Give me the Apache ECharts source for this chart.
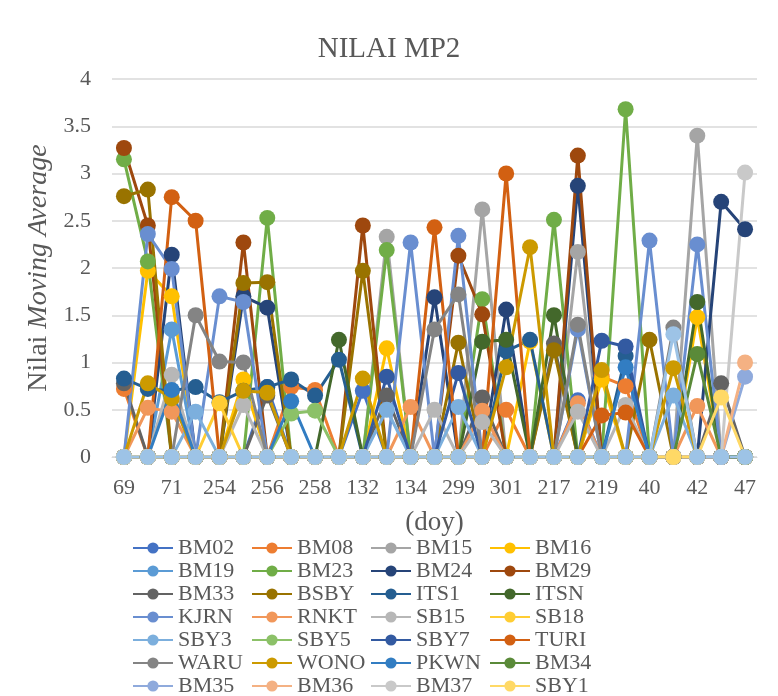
<!DOCTYPE html>
<html><head><meta charset="utf-8">
<script src="https://cdn.jsdelivr.net/npm/echarts@6/dist/echarts.min.js"></script>
<style>html,body{margin:0;padding:0;background:#fff}#c{width:778px;height:696px}</style>
</head><body><div id="c"></div>
<script>
const categories = ['69','70','71','72','254','255','256','257','258','259','132','133','134','135','299','300','301','302','217','218','219','220','40','41','42','43','47'];
const BM02 = [0,0,0,0,0,0,0.74,0,0,0,0.70,0,0,0,0,0,0,0,0,0.60,0,0,0,0,0,0,0];
const BM08 = [0.72,0,0,0,0,0,0,0.74,0.71,0,0,0,0,0,0,0,0.50,0,0,0,0.85,0.75,0,0,0,0,0];
const BM15 = [0,0,0,0,0,0,0,0,0,0,0,2.33,0,0,0,2.62,0,0,0,2.17,0,0,0,0,3.40,0,0];
const BM16 = [0,1.97,1.70,0,0,0.82,0,0,0,0,0,1.15,0,0,0,0,0,1.22,0,0,0.82,0,0,0,1.48,0,0];
const BM19 = [0,0,1.35,0,0,0,0,0,0,0,0,0,0,0,0,0,0,0,0,0,0,0,0,0,0,0,0];
const BM23 = [3.15,2.07,0,0,0,0,2.53,0,0,0,0,2.19,0,0,0,1.67,0,0,2.51,0,0,3.68,0,0,0,0,0];
const BM24 = [0,0,2.14,0,0,1.70,1.58,0,0,0,0,0,0,1.69,0,0,1.56,0,0,2.87,0,0,0,0,0,2.70,2.41];
const BM29 = [3.27,2.45,0,0,0,2.27,0,0,0,0,2.45,0,0,0,2.13,1.51,0,0,0,3.19,0,0,0,0,0,0,0];
const BM33 = [0.78,0,0,0,0,0,0.65,0,0,0,0,0.65,0,0,0,0.63,0,0,1.20,0,0,0,0,0,0,0.78,0];
const BSBY = [2.76,2.83,0,0,0,1.84,1.85,0,0,0,1.97,0,0,0,1.21,0,0,0,1.13,0,0,0,1.24,0,0,0,0];
const ITS1 = [0.83,0.72,0.70,0.74,0.58,0.70,0.74,0.82,0.65,1.03,0,0,0,0,0,0,1.12,1.24,0,0,0,1.07,0,0,0,0,0];
const ITSN = [0,0,0,0,0,0,0,0,0,1.24,0,0,0,0,0,1.22,1.24,0,1.50,0,0,0,0,0,1.64,0,0];
const KJRN = [0,2.36,1.99,0,1.70,1.64,0,0,0,0,0,0,2.27,0,2.34,0,0,0,0,1.35,0,0,2.29,0,2.25,0,0];
const RNKT = [0,0.52,0.48,0,0,0,0,0,0,0,0,0,0.53,0,0,0.49,0,0,0,0.57,0,0,0,0,0.54,0,0];
const SB15 = [0,0,0.87,0,0,0.55,0,0,0,0,0,0,0,0.50,0,0.37,0,0,0,0.48,0,0.55,0,0,0,0,0];
const SB18 = [0,0,0,0,0.57,0,0,0,0,0,0,0,0,0,0,0,0,0,0,0,0,0,0,0,0,0,0];
const SBY3 = [0,0,0,0.48,0,0,0,0,0,0,0,0.50,0,0,0.53,0,0,0,0,0,0,0,0,0.65,0,0,0];
const SBY5 = [0,0,0,0,0,0,0,0.46,0.49,0,0,0,0,0,0,0,0,0,0,0,0,0,0,0,0,0,0];
const SBY7 = [0,0,0,0,0,0,0,0,0,0,0,0.85,0,0,0.89,0,0,0,0,0,1.23,1.17,0,0,0,0,0];
const TURI = [0,0,2.75,2.50,0,0,0,0,0,0,0,0,0,2.43,0,0,3.00,0,0,0,0.44,0.47,0,0,0,0,0];
const WARU = [0,0,0,1.50,1.01,1.00,0,0,0,0,0,0,0,1.35,1.72,0,0,0,0,1.40,0,0,0,1.37,0,0,0];
const WONO = [0,0.78,0.62,0,0,0.70,0.68,0,0,0,0.83,0,0,0,0,0,0.95,2.22,0,0,0.92,0,0,0.94,0,0,0];
const PKWN = [0,0,0.71,0,0,0,0,0.59,0,0,0,0,0,0,0,0,0,0,0,0,0,0.95,0,0,0,0,0];
const BM34 = [0,0,0,0,0,0,0,0,0,0,0,0,0,0,0,0,0,0,0,0,0,0,0,0,1.09,0,0];
const BM35 = [0,0,0,0,0,0,0,0,0,0,0,0,0,0,0,0,0,0,0,0,0,0,0,0,0,0,0.85];
const BM36 = [0,0,0,0,0,0,0,0,0,0,0,0,0,0,0,0,0,0,0,0,0,0,0,0,0,0,1.00];
const BM37 = [0,0,0,0,0,0,0,0,0,0,0,0,0,0,0,0,0,0,0,0,0,0,0,0,0,0,3.01];
const SBY1 = [0,0,0,0,0,0,0,0,0,0,0,0,0,0,0,0,0,0,0,0,0,0,0,0,0,0.63,0];
const S29  = [0,0,0,0,0,0,0,0,0,0,0,0,0,0,0,0,0,0,0,0,0,0,0,1.30,0,0,0];

const seriesNames = ['BM02','BM08','BM15','BM16','BM19','BM23','BM24','BM29','BM33','BSBY','ITS1','ITSN','KJRN','RNKT','SB15','SB18','SBY3','SBY5','SBY7','TURI','WARU','WONO','PKWN','BM34','BM35','BM36','BM37','SBY1','S29'];
const seriesData = [BM02,BM08,BM15,BM16,BM19,BM23,BM24,BM29,BM33,BSBY,ITS1,ITSN,KJRN,RNKT,SB15,SB18,SBY3,SBY5,SBY7,TURI,WARU,WONO,PKWN,BM34,BM35,BM36,BM37,SBY1,S29];
const colors = ['#4472C4','#ED7D31','#A5A5A5','#FFC000','#5B9BD5','#70AD47','#264478','#9E480E','#636363','#997300','#255E91','#43682B','#698ED0','#F1975A','#B7B7B7','#FFCD33','#7CAFDD','#8CC168','#335AA1','#D26012','#848484','#CC9A00','#327DC2','#5A8A39','#8FAADC','#F4B183','#C9C9C9','#FFD966','#9DC3E6'];

const FONT = '"Liberation Serif","Times New Roman",serif';
const TXT = '#595959';

const legendRows = [
  ['BM02','BM08','BM15','BM16'],
  ['BM19','BM23','BM24','BM29'],
  ['BM33','BSBY','ITS1','ITSN'],
  ['KJRN','RNKT','SB15','SB18'],
  ['SBY3','SBY5','SBY7','TURI'],
  ['WARU','WONO','PKWN','BM34'],
  ['BM35','BM36','BM37','SBY1']
];

const chart = echarts.init(document.getElementById('c'), null, {renderer:'canvas'});
chart.setOption({
  animation: false,
  backgroundColor: '#fff',
  title: {
    text: 'NILAI MP2', left: 'center', top: 30,
    textStyle: {fontFamily: FONT, fontSize: 29, fontWeight: 'normal', color: TXT}
  },
  legend: legendRows.map((row, r) => ({
    orient: 'horizontal', left: 132, top: 536.5 + 23 * r, data: row, padding: 0,
    itemWidth: 40, itemHeight: 14, itemGap: 1, selectedMode: false,
    textStyle: {fontFamily: FONT, fontSize: 22, color: TXT, lineHeight: 23, width: 72, overflow: 'none'}
  })),
  grid: {left: 112, right: 21, top: 79, bottom: 239, containLabel: false},
  xAxis: {
    type: 'category', data: categories, boundaryGap: true,
    name: '(doy)', nameLocation: 'middle', nameGap: 52,
    nameTextStyle: {fontFamily: FONT, fontSize: 27, color: TXT},
    axisLine: {show: true, lineStyle: {color: '#D9D9D9', width: 1}},
    axisTick: {show: false},
    axisLabel: {interval: 1, fontFamily: FONT, fontSize: 22, color: TXT, margin: 20}
  },
  yAxis: {
    type: 'value', min: 0, max: 4, interval: 0.5,
    name: 'Nilai {i|Moving Average}', nameLocation: 'middle', nameGap: 42, nameRotate: 90,
    nameTextStyle: {fontFamily: FONT, fontSize: 28, color: TXT,
      rich: {i: {fontFamily: FONT, fontSize: 28, fontStyle: 'italic', color: TXT}}},
    axisLine: {show: false}, axisTick: {show: false},
    splitLine: {lineStyle: {color: '#D9D9D9', width: 1.5}},
    axisLabel: {fontFamily: FONT, fontSize: 22, color: TXT, margin: 21}
  },
  series: seriesNames.map((n, i) => ({
    name: n, type: 'line', data: seriesData[i],
    symbol: 'circle', symbolSize: 16, showAllSymbol: true,
    lineStyle: {color: colors[i], width: 3},
    itemStyle: {color: colors[i]},
    emphasis: {disabled: true}
  }))
});
</script></body></html>
